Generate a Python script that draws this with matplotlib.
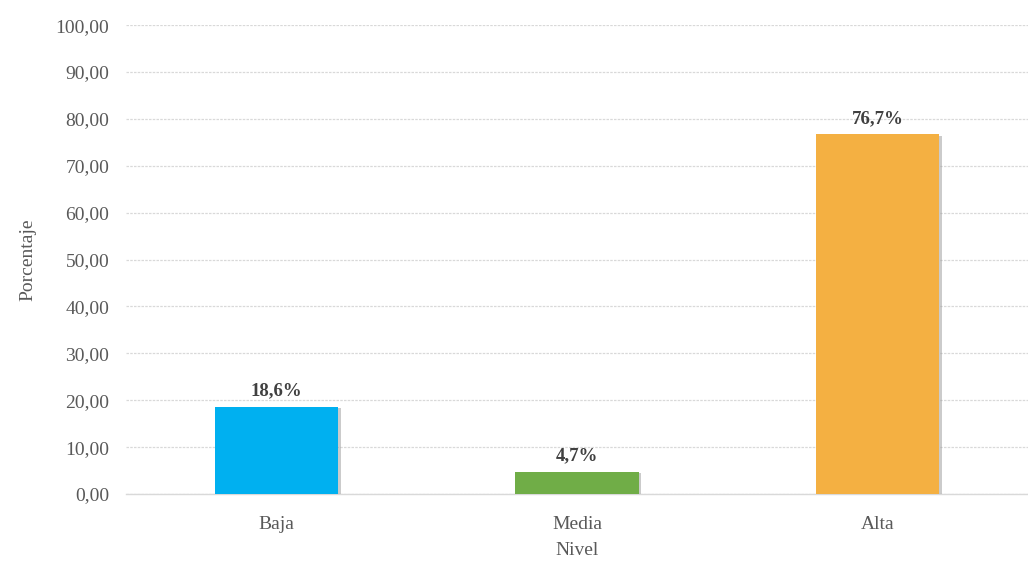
import matplotlib
matplotlib.use("Agg")
import matplotlib.pyplot as plt
import matplotlib.patheffects as pe

categories = ["Baja", "Media", "Alta"]
values = [18.6, 4.7, 76.7]
labels = ["18,6%", "4,7%", "76,7%"]
colors = ["#00B0F0", "#70AD47", "#F4B042"]
yticks = [0, 10, 20, 30, 40, 50, 60, 70, 80, 90, 100]

plt.rcParams['font.family'] = ['Liberation Serif', 'DejaVu Serif']

fig = plt.figure(figsize=(10.28, 5.67), dpi=100)
ax = fig.add_axes([0.1226, 0.1287, 0.8774, 0.827])

x = list(range(len(categories)))
bars = ax.bar(x, values, width=0.41, color=colors, zorder=3,
              path_effects=[pe.SimplePatchShadow(offset=(2, -1), shadow_rgbFace='#999999', alpha=0.5), pe.Normal()])
for xi, v, lab in zip(x, values, labels):
    ax.text(xi, v + 1.6, lab, ha='center', va='bottom', fontsize=13.5,
            fontweight='bold', color='#404040', zorder=4)

ax.set_xlim(-0.5, 2.5)
ax.set_ylim(0, 100)
ax.set_yticks(yticks)
ax.set_yticklabels([f"{t:.2f}".replace('.', ',') for t in yticks])
ax.set_xticks(x)
ax.set_xticklabels(categories)
ax.tick_params(axis='both', length=0, labelsize=14, colors='#595959')
ax.tick_params(axis='y', pad=12)
ax.tick_params(axis='x', pad=16)
ax.yaxis.grid(True, color='#D9D9D9', linestyle=(0, (2, 1)), linewidth=0.9, zorder=0)
ax.set_axisbelow(True)
for s in ['top', 'right', 'left']:
    ax.spines[s].set_visible(False)
ax.spines['bottom'].set_color('#D9D9D9')
ax.spines['bottom'].set_linewidth(1.0)
ax.set_ylabel("Porcentaje", fontsize=14, color='#595959', labelpad=14)
ax.set_xlabel("Nivel", fontsize=14, color='#595959', labelpad=6)

fig.savefig("out.png", dpi=100)
